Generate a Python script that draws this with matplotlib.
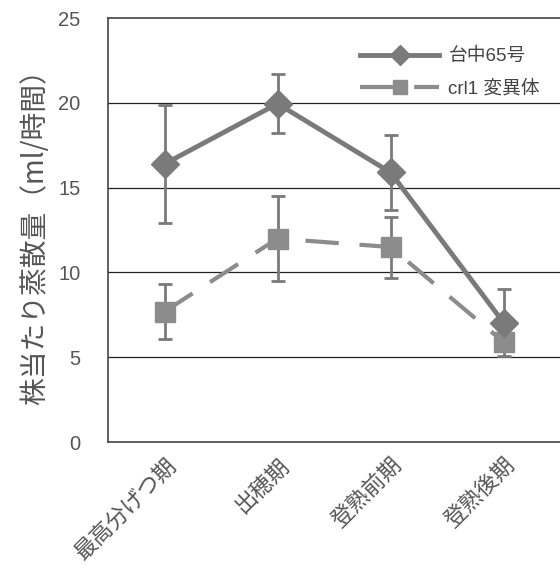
import matplotlib
matplotlib.use("Agg")
import matplotlib.pyplot as plt
import numpy as np

plt.rcParams['font.family'] = ['Liberation Sans', 'Noto Sans CJK JP', 'DejaVu Sans']

categories = ['最高分げつ期', '出穂期', '登熟前期', '登熟後期']
taichung = [16.4, 19.95, 15.9, 7.05]
taichung_err = [3.5, 1.75, 2.2, 1.95]
crl1 = [7.7, 12.0, 11.5, 5.9]
crl1_err = [1.6, 2.5, 1.8, 0.5]
yticks = [0, 5, 10, 15, 20, 25]

fig = plt.figure(figsize=(5.6, 5.81), dpi=100)
ax = fig.add_axes([0.193, 0.239, 0.807, 0.730])

x = np.arange(len(categories))
gray = '#7a7a7a'
gray2 = '#8c8c8c'
text_col = '#555555'

for yv in yticks[1:-1]:
    ax.axhline(yv, color='#222222', lw=0.9, zorder=0)

ax.errorbar(x, taichung, yerr=taichung_err, fmt='none', ecolor=gray,
            elinewidth=2, capsize=5, capthick=2, zorder=3)
ax.errorbar(x, crl1, yerr=crl1_err, fmt='none', ecolor=gray,
            elinewidth=2, capsize=5, capthick=2, zorder=2)
ax.plot(x, taichung, color=gray, lw=3.5, marker='D', ms=14, mfc=gray,
        mec=gray, label='台中65号', zorder=4)
ax.plot(x, crl1, color=gray2, lw=3, marker='s', ms=14, mfc=gray2, mec=gray2,
        ls=(0, (8, 5)), label='crl1 変異体', zorder=3)

ax.set_xlim(-0.5, 3.5)
ax.set_ylim(0, 25)
ax.set_yticks(yticks)
ax.set_xticks(x)
ax.set_xticklabels(categories, rotation=45, ha='right', va='top',
                   rotation_mode='anchor', fontsize=16, color=text_col,
                   family=['Noto Sans CJK JP', 'DejaVu Sans'])
ax.tick_params(axis='x', length=0, pad=8)
ax.tick_params(axis='y', length=0, pad=20, labelsize=14.5, labelcolor=text_col)

for s in ['left', 'bottom', 'top']:
    ax.spines[s].set_color('#444444')
    ax.spines[s].set_linewidth(1.2)
ax.spines['right'].set_visible(False)

ax.set_ylabel('株当たり蒸散量（ml/時間）', fontsize=20, color=text_col, labelpad=6,
              family=['Noto Sans CJK JP', 'DejaVu Sans'])

leg = ax.legend(loc='upper right', bbox_to_anchor=(0.985, 0.96), frameon=False,
                fontsize=13.5, handlelength=4.2, labelcolor='#444444',
                markerscale=0.7, borderaxespad=0.3, handletextpad=0.5,
                labelspacing=0.75)

fig.savefig('out.png', dpi=100)
